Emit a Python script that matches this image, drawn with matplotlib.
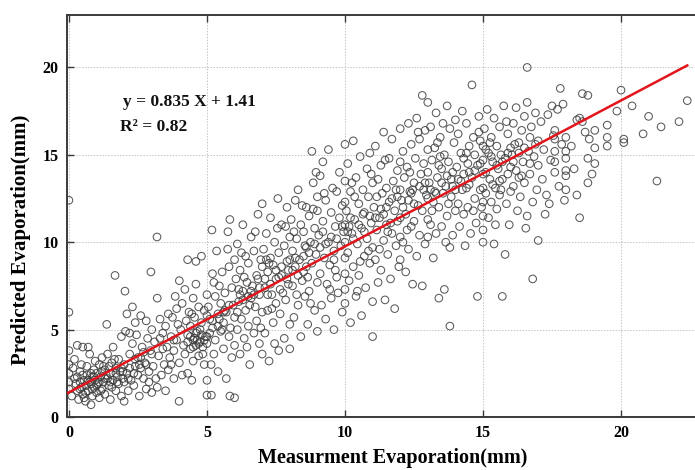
import numpy as np
import matplotlib
matplotlib.use("Agg")
import matplotlib.pyplot as plt

pts_0_2 = [
    (0.0, 12.4), (0.0, 6.0), (0.0, 3.8), (0.0, 3.0), (0.0, 2.5), (0.0, 2.0), (0.0, 1.6),
    (0.1, 1.2), (0.15, 2.8), (0.2, 3.3), (0.25, 1.9), (0.3, 4.1), (0.3, 2.3), (0.35, 1.0),
    (0.4, 1.6), (0.4, 2.6), (0.45, 3.0), (0.5, 4.0), (0.5, 1.3), (0.55, 2.1), (0.6, 1.8),
    (0.6, 0.9), (0.65, 2.4), (0.7, 4.0), (0.7, 1.5), (0.75, 2.0), (0.75, 3.6), (0.8, 0.7),
    (0.8, 1.9), (0.85, 2.3), (0.85, 1.2), (0.9, 2.7), (0.9, 1.7), (0.95, 2.1), (0.95, 3.2),
    (1.0, 1.4), (1.0, 2.5), (0.2, 2.2), (0.45, 1.7), (0.65, 2.9), (0.85, 1.6), (0.55, 1.1),
    (1.05, 1.9), (1.1, 3.0), (1.1, 1.1), (1.15, 2.3), (1.2, 1.6), (1.2, 3.4), (1.25, 2.0),
    (1.3, 2.7), (1.3, 1.3), (1.37, 5.3), (1.4, 2.2), (1.4, 3.6), (1.45, 1.8), (1.5, 2.5),
    (1.5, 1.0), (1.55, 3.1), (1.6, 2.1), (1.6, 4.0), (1.67, 8.1), (1.7, 2.8), (1.7, 1.5),
    (1.75, 2.3), (1.8, 3.3), (1.8, 1.9), (1.85, 2.6), (1.9, 4.6), (1.9, 1.2), (1.95, 2.2),
    (2.0, 3.0), (2.0, 0.9), (2.03, 7.2), (2.05, 4.9), (2.0, 2.0), (1.65, 3.3), (1.25, 2.9),
    (1.15, 1.5), (1.35, 2.4), (1.55, 1.7), (1.75, 2.0), (1.95, 2.6), (1.45, 2.9),
]
pts_2_4 = [
    (2.1, 2.5), (2.1, 5.9), (2.15, 1.5), (2.2, 3.6), (2.25, 2.1), (2.3, 4.2), (2.3, 6.3),
    (2.35, 1.8), (2.4, 2.9), (2.45, 4.7), (2.5, 2.4), (2.5, 3.4), (2.55, 1.2), (2.6, 5.8),
    (2.6, 2.8), (2.65, 4.0), (2.7, 2.2), (2.75, 3.1), (2.8, 5.5), (2.8, 1.6), (2.85, 4.5),
    (2.9, 2.6), (2.97, 8.3), (2.95, 3.8), (3.0, 1.4), (3.0, 5.0), (2.4, 5.4), (2.7, 3.7),
    (2.2, 4.8), (2.9, 2.0), (2.35, 2.5), (2.55, 3.0), (2.15, 2.2),
    (3.05, 2.9), (3.1, 4.3), (3.19, 10.3), (3.2, 6.8), (3.2, 1.7), (3.25, 3.5), (3.3, 5.6),
    (3.35, 2.4), (3.4, 4.8), (3.45, 3.0), (3.5, 5.2), (3.5, 1.5), (3.55, 4.0), (3.6, 5.9),
    (3.6, 2.7), (3.65, 3.4), (3.7, 4.6), (3.75, 5.7), (3.8, 2.2), (3.8, 3.8), (3.85, 6.9),
    (3.9, 4.4), (3.95, 5.3), (3.99, 0.9), (4.0, 3.1), (4.0, 7.8), (3.3, 4.5), (3.7, 3.0),
    (3.15, 2.2), (3.9, 6.2),
]
pts_4_6 = [
    (4.05, 5.0), (4.1, 2.4), (4.1, 6.5), (4.15, 4.1), (4.2, 3.6), (4.2, 7.3), (4.25, 5.5),
    (4.3, 2.5), (4.3, 4.7), (4.35, 6.0), (4.4, 3.9), (4.4, 5.2), (4.45, 2.1), (4.5, 4.4),
    (4.5, 6.8), (4.5, 3.2), (4.55, 5.7), (4.6, 4.1), (4.6, 7.6), (4.65, 4.9), (4.7, 3.5),
    (4.7, 6.3), (4.75, 4.3), (4.8, 5.4), (4.8, 9.2), (4.85, 4.0), (4.9, 6.1), (4.9, 3.0),
    (4.95, 4.6), (5.0, 5.8), (5.0, 1.25), (5.0, 4.2), (5.0, 2.1), (5.0, 7.0), (4.6, 8.9),
    (4.3, 9.0), (4.75, 5.0), (4.55, 4.5), (4.85, 3.6), (4.45, 5.9),
    (5.05, 6.3), (5.1, 4.8), (5.16, 1.25), (5.18, 10.7), (5.2, 8.2), (5.2, 5.5), (5.25, 3.6),
    (5.3, 6.9), (5.3, 4.4), (5.35, 9.5), (5.4, 5.9), (5.4, 2.6), (5.45, 7.5), (5.5, 4.9),
    (5.5, 6.5), (5.55, 8.3), (5.6, 3.9), (5.6, 5.4), (5.65, 7.1), (5.7, 2.2), (5.7, 6.0),
    (5.76, 10.6), (5.8, 4.6), (5.8, 8.6), (5.83, 11.3), (5.83, 1.2), (5.85, 5.1), (5.9, 7.4),
    (5.9, 3.4), (5.95, 6.4), (6.0, 1.1), (6.0, 9.0), (6.0, 5.7), (6.0, 4.1), (5.25, 7.7),
    (5.55, 5.0), (5.75, 9.6), (5.15, 3.0), (5.45, 5.6), (5.65, 6.1),
]
pts_6_8 = [
    (6.05, 7.9), (6.1, 5.0), (6.1, 9.9), (6.15, 6.6), (6.2, 3.6), (6.2, 8.4), (6.25, 5.6),
    (6.3, 7.2), (6.3, 11.0), (6.35, 4.5), (6.4, 9.2), (6.4, 6.1), (6.45, 7.7), (6.5, 5.2),
    (6.5, 8.8), (6.55, 3.0), (6.6, 6.8), (6.6, 10.3), (6.65, 7.5), (6.7, 4.8), (6.7, 9.5),
    (6.75, 6.3), (6.8, 8.1), (6.8, 5.5), (6.85, 11.6), (6.9, 7.0), (6.9, 4.2), (6.95, 9.0),
    (7.0, 12.2), (7.0, 6.0), (7.0, 8.6), (7.0, 3.6), (6.25, 9.4), (6.45, 4.0), (6.75, 10.6),
    (6.35, 8.0), (6.55, 6.4), (6.95, 5.1), (6.15, 7.3), (6.85, 7.9),
    (7.05, 9.6), (7.1, 7.4), (7.1, 4.8), (7.15, 10.5), (7.2, 8.3), (7.2, 6.1), (7.25, 3.2),
    (7.3, 9.1), (7.3, 11.4), (7.35, 7.0), (7.4, 5.4), (7.4, 8.7), (7.45, 10.0), (7.5, 6.5),
    (7.5, 7.9), (7.57, 12.5), (7.6, 9.4), (7.6, 3.8), (7.65, 5.9), (7.7, 8.1), (7.7, 11.0),
    (7.75, 7.1), (7.8, 9.8), (7.8, 4.5), (7.85, 6.7), (7.9, 8.9), (7.9, 12.0), (7.95, 7.6),
    (8.0, 5.3), (8.0, 10.3), (8.0, 9.0), (8.0, 3.9), (7.25, 8.8), (7.55, 10.8), (7.35, 6.2),
    (7.85, 10.9), (7.15, 9.0), (7.65, 7.3), (7.45, 4.2), (7.95, 8.4),
]
pts_8_10 = [
    (8.05, 11.3), (8.1, 7.5), (8.1, 9.5), (8.15, 5.7), (8.2, 12.4), (8.2, 8.6), (8.25, 10.2),
    (8.3, 6.4), (8.3, 13.0), (8.35, 9.0), (8.4, 11.0), (8.4, 4.6), (8.45, 7.8), (8.5, 10.6),
    (8.5, 8.3), (8.55, 6.9), (8.6, 12.0), (8.6, 9.7), (8.65, 5.3), (8.7, 11.5), (8.7, 7.2),
    (8.75, 10.0), (8.8, 15.2), (8.8, 8.8), (8.85, 13.4), (8.9, 6.1), (8.9, 10.8), (8.95, 9.3),
    (9.0, 12.6), (9.0, 7.7), (9.0, 11.8), (9.0, 4.9), (8.25, 7.0), (8.45, 12.1), (8.65, 8.0),
    (8.85, 11.9), (8.15, 10.6), (8.55, 9.8), (8.75, 6.5), (8.95, 14.0),
    (9.05, 10.4), (9.1, 8.2), (9.1, 13.8), (9.15, 6.4), (9.2, 14.6), (9.2, 11.2), (9.25, 9.1),
    (9.3, 5.6), (9.3, 12.4), (9.35, 7.6), (9.4, 15.3), (9.4, 10.0), (9.45, 8.7), (9.5, 11.7),
    (9.5, 6.8), (9.55, 13.1), (9.6, 9.5), (9.6, 5.0), (9.65, 10.9), (9.7, 12.9), (9.7, 8.0),
    (9.75, 7.1), (9.8, 11.4), (9.8, 14.0), (9.85, 9.8), (9.9, 6.0), (9.9, 12.1), (9.95, 10.6),
    (10.0, 15.6), (10.0, 13.5), (10.0, 12.3), (10.0, 11.0), (10.0, 10.0), (10.0, 9.1),
    (10.0, 8.2), (10.0, 7.3), (10.0, 6.5), (9.25, 12.8), (9.45, 7.3), (9.65, 8.4),
]
pts_10_12 = [
    (10.05, 11.8), (10.1, 9.4), (10.1, 14.5), (10.15, 7.8), (10.2, 5.4), (10.2, 12.9),
    (10.25, 10.5), (10.3, 8.6), (10.3, 15.8), (10.35, 11.3), (10.4, 6.9), (10.4, 13.7),
    (10.45, 9.9), (10.5, 12.2), (10.5, 8.1), (10.55, 14.9), (10.6, 10.8), (10.6, 5.8),
    (10.65, 13.0), (10.7, 9.2), (10.7, 11.7), (10.75, 7.4), (10.8, 14.2), (10.8, 10.2),
    (10.85, 12.6), (10.9, 8.8), (10.9, 15.1), (10.95, 11.1), (11.0, 4.6), (11.0, 13.4),
    (11.0, 9.7), (11.0, 6.6), (10.25, 13.4), (10.45, 7.2), (10.65, 11.6), (10.85, 9.5),
    (10.15, 10.9), (10.35, 12.6), (10.55, 8.9), (10.95, 13.9),
    (11.05, 12.0), (11.1, 9.0), (11.1, 15.5), (11.15, 10.7), (11.2, 7.7), (11.2, 13.6),
    (11.25, 11.4), (11.3, 14.4), (11.3, 8.4), (11.35, 12.8), (11.4, 10.1), (11.4, 16.3),
    (11.45, 6.7), (11.5, 13.1), (11.5, 11.0), (11.55, 9.3), (11.6, 14.8), (11.6, 12.3),
    (11.65, 7.9), (11.7, 10.5), (11.7, 15.9), (11.75, 13.5), (11.8, 6.2), (11.8, 11.8),
    (11.85, 9.8), (11.9, 14.1), (11.9, 12.6), (11.95, 8.6), (12.0, 16.5), (12.0, 14.6),
    (12.0, 13.0), (12.0, 11.4), (12.0, 10.3), (12.0, 9.0), (11.25, 9.6), (11.45, 14.7),
    (11.65, 11.1), (11.85, 13.0), (11.15, 12.6), (11.55, 10.6),
]
pts_12_14 = [
    (12.05, 12.4), (12.1, 10.0), (12.1, 15.2), (12.15, 13.7), (12.2, 8.3), (12.2, 11.6),
    (12.25, 14.3), (12.3, 9.6), (12.3, 16.8), (12.35, 12.9), (12.4, 10.9), (12.4, 15.6),
    (12.45, 7.6), (12.5, 13.4), (12.5, 11.2), (12.55, 14.8), (12.6, 9.2), (12.6, 17.1),
    (12.65, 12.1), (12.7, 10.4), (12.7, 15.9), (12.75, 13.9), (12.8, 18.4), (12.8, 7.5),
    (12.8, 11.8), (12.85, 14.5), (12.9, 9.9), (12.9, 16.4), (12.95, 12.7), (13.0, 18.0),
    (13.0, 15.3), (13.0, 14.0), (13.0, 12.5), (13.0, 11.3), (13.0, 10.3), (12.25, 10.7),
    (12.45, 13.0), (12.65, 16.3), (12.85, 13.0), (12.35, 14.0),
    (13.05, 13.4), (13.1, 11.0), (13.1, 16.6), (13.15, 14.7), (13.2, 9.1), (13.2, 12.3),
    (13.25, 15.4), (13.3, 10.5), (13.3, 17.4), (13.35, 13.7), (13.4, 6.8), (13.4, 12.0),
    (13.45, 16.0), (13.5, 14.2), (13.5, 10.9), (13.55, 12.8), (13.6, 7.3), (13.6, 15.0),
    (13.65, 13.2), (13.7, 17.8), (13.7, 11.5), (13.75, 14.6), (13.8, 5.2), (13.8, 9.7),
    (13.8, 16.5), (13.85, 12.6), (13.9, 14.0), (13.9, 10.4), (13.95, 15.7), (14.0, 13.0),
    (14.0, 11.8), (14.0, 17.0), (13.25, 12.9), (13.45, 14.9), (13.65, 10.0), (13.85, 13.6),
    (13.15, 11.8), (13.55, 16.8), (13.75, 12.2), (13.35, 15.7),
]
pts_14_16 = [
    (14.05, 14.3), (14.1, 12.2), (14.1, 16.2), (14.15, 10.9), (14.2, 15.1), (14.2, 13.5),
    (14.25, 17.5), (14.3, 11.6), (14.3, 14.8), (14.35, 9.8), (14.4, 16.8), (14.4, 13.1),
    (14.45, 12.0), (14.5, 15.5), (14.5, 14.0), (14.55, 10.5), (14.6, 19.0), (14.6, 13.7),
    (14.65, 16.0), (14.7, 12.5), (14.7, 15.0), (14.75, 11.1), (14.8, 6.9), (14.8, 14.4),
    (14.85, 17.2), (14.9, 13.0), (14.9, 15.8), (14.95, 12.0), (15.0, 10.0), (15.0, 15.5),
    (15.0, 14.7), (15.0, 13.9), (15.0, 13.1), (15.0, 12.3), (15.0, 11.5), (15.0, 10.7),
    (14.25, 13.0), (14.45, 14.5), (14.65, 11.8), (14.85, 16.3),
    (15.05, 16.5), (15.1, 14.0), (15.1, 12.8), (15.15, 17.6), (15.2, 15.1), (15.2, 11.4),
    (15.25, 13.6), (15.3, 16.0), (15.3, 12.3), (15.35, 14.6), (15.4, 9.9), (15.4, 17.1),
    (15.45, 13.1), (15.5, 15.5), (15.5, 11.9), (15.55, 14.2), (15.6, 16.6), (15.6, 12.7),
    (15.65, 15.0), (15.7, 6.9), (15.7, 13.6), (15.75, 17.8), (15.8, 9.3), (15.8, 14.8),
    (15.85, 12.2), (15.9, 16.2), (15.9, 13.9), (15.95, 11.0), (16.0, 15.4), (16.0, 14.3),
    (16.0, 12.9), (15.25, 15.7), (15.45, 11.0), (15.65, 13.0), (15.85, 16.9), (15.35, 13.3),
]
pts_16_up = [
    (16.05, 15.0), (16.1, 13.2), (16.1, 16.8), (16.2, 17.7), (16.2, 14.1), (16.25, 11.8),
    (16.3, 15.7), (16.35, 12.6), (16.4, 16.4), (16.45, 14.6), (16.5, 13.4), (16.5, 17.2),
    (16.55, 10.8), (16.6, 20.0), (16.6, 18.0), (16.6, 11.5), (16.65, 15.2), (16.7, 13.9),
    (16.75, 16.6), (16.8, 7.9), (16.8, 12.3), (16.85, 14.9), (16.9, 17.4), (16.95, 13.0),
    (17.0, 10.1), (17.0, 15.8), (17.0, 14.4), (16.3, 13.7), (16.7, 16.0), (16.15, 15.6),
    (17.1, 16.9), (17.15, 13.6), (17.2, 15.3), (17.3, 12.7), (17.35, 17.3), (17.4, 12.2),
    (17.45, 14.7), (17.5, 17.8), (17.55, 16.1), (17.6, 16.4), (17.6, 15.9), (17.6, 15.2),
    (17.6, 14.6), (17.6, 14.0), (17.7, 17.6), (17.75, 13.2), (17.8, 18.8), (17.85, 15.6),
    (17.9, 17.9), (18.0, 16.0), (18.0, 15.2), (18.0, 14.8), (18.0, 14.1), (18.0, 13.8),
    (18.0, 13.0), (17.25, 11.6), (17.95, 12.4),
    (18.4, 17.0), (18.4, 12.7), (18.5, 11.4), (18.5, 17.1), (18.6, 18.5), (18.6, 16.9),
    (18.7, 16.3), (18.8, 18.4), (18.8, 14.8), (18.8, 13.4), (18.85, 15.9), (19.05, 16.4),
    (19.05, 15.4), (19.05, 14.5), (18.2, 15.5), (18.3, 14.2), (18.95, 13.9),
    (19.5, 16.7), (19.5, 16.0), (19.5, 15.5), (19.85, 17.5), (20.0, 18.7), (20.1, 15.9),
    (20.1, 15.7), (20.4, 17.8), (20.8, 16.2), (21.0, 17.2), (21.3, 13.5), (21.45, 16.6),
    (22.1, 16.9), (22.4, 18.1),
]
# extra points in the dark, crowded band around the fitted line
pts_core = [
    (0.3, 1.5), (0.5, 2.4), (0.7, 2.1), (0.9, 2.3), (1.1, 2.0), (1.3, 2.2), (1.5, 2.0),
    (1.7, 2.5), (1.9, 2.8), (0.4, 2.0), (0.8, 2.5), (1.2, 2.6), (0.6, 1.4), (1.0, 1.8),
    (2.2, 2.8), (2.6, 3.4), (3.0, 3.6), (3.4, 3.9), (3.8, 4.4), (2.4, 3.3), (2.8, 3.0),
    (4.3, 4.3), (4.5, 4.0), (4.7, 4.2), (4.9, 4.4), (4.6, 4.8), (4.4, 4.6), (4.8, 4.7),
    (5.0, 4.6), (4.65, 4.4), (5.2, 5.1), (5.4, 5.2), (5.6, 6.0), (5.8, 6.4), (5.1, 5.6),
    (6.1, 6.0), (6.3, 6.7), (6.5, 6.9), (6.7, 7.0), (6.9, 7.4), (6.2, 7.0), (6.6, 7.2),
    (7.1, 7.9), (7.3, 7.6), (7.5, 8.4), (7.7, 8.6), (7.9, 7.9), (7.2, 7.0), (7.6, 8.0),
    (8.1, 8.4), (8.3, 8.1), (8.5, 9.2), (8.7, 9.4), (8.9, 9.9), (8.2, 9.1), (8.6, 8.6),
    (9.1, 9.7), (9.3, 9.9), (9.5, 10.3), (9.7, 10.2), (9.9, 10.9), (9.2, 10.6), (9.6, 9.0),
    (10.1, 10.6), (10.3, 10.2), (10.5, 11.0), (10.7, 10.6), (10.9, 11.5), (10.2, 11.4),
    (11.1, 11.4), (11.3, 11.9), (11.5, 12.0), (11.7, 12.5), (11.9, 11.2), (11.4, 11.6),
    (12.1, 12.0), (12.3, 12.4), (12.5, 12.2), (12.7, 13.2), (12.9, 13.4), (12.4, 12.8),
    (13.1, 13.0), (13.3, 12.8), (13.5, 13.4), (13.7, 13.8), (13.9, 13.2), (13.4, 14.4),
    (14.1, 13.6), (14.3, 13.9), (14.5, 13.3), (14.7, 14.1), (14.9, 14.5), (14.4, 15.1),
    (15.1, 15.3), (15.3, 14.9), (15.5, 14.4), (15.7, 14.6), (15.9, 15.1), (15.6, 13.5),
    (16.1, 14.6), (16.3, 15.1), (16.5, 15.4), (16.7, 14.5), (16.9, 15.6), (16.4, 13.8),
]

slope = 0.835
intercept = 1.41
r2 = 0.82
x_ticks = [0, 5, 10, 15, 20]
y_ticks = [0, 5, 10, 15, 20]

pts = np.array(pts_0_2 + pts_2_4 + pts_4_6 + pts_6_8 + pts_8_10
               + pts_10_12 + pts_12_14 + pts_14_16 + pts_16_up + pts_core)
meas = pts[:, 0]
pred = pts[:, 1]

serif = ['Liberation Serif', 'DejaVu Serif']

fig = plt.figure(figsize=(6.95, 4.7), dpi=100)
ax = fig.add_axes([67 / 695, 53 / 470, 628 / 695, 402 / 470])

ax.scatter(meas, pred, s=30, facecolors='none', edgecolors='#3c3c3c',
           linewidths=0.75, alpha=0.85, zorder=2)

xfit = np.array([-0.07, 22.4])
ax.plot(xfit, slope * xfit + intercept, color='#e3141b', lw=1.8, zorder=3)

ax.set_xlim(-0.07, 22.68)
ax.set_ylim(0, 23)
ax.set_xticks(x_ticks)
ax.set_yticks(y_ticks)
ax.grid(True, color='#c4c4c4', linestyle=(0, (1.5, 1.5)), linewidth=0.7, zorder=0)

for s in ['left', 'bottom', 'top']:
    ax.spines[s].set_color('#3a3a3a')
    ax.spines[s].set_linewidth(1.4)
ax.spines['right'].set_visible(False)
ax.tick_params(direction='in', top=True, right=False, length=5, width=1.0,
               color='#3a3a3a', pad=6)
for lab in ax.get_xticklabels() + ax.get_yticklabels():
    lab.set_fontfamily(serif)
    lab.set_fontweight('bold')
    lab.set_fontsize(11.5)

ax.set_xlabel('Measurment Evaporation(mm)', family=serif, weight='bold',
              fontsize=14.5)
ax.set_ylabel('Predicted Evaporation(mm)', family=serif, weight='bold',
              fontsize=15)
ax.xaxis.set_label_coords(0.518, -0.078)
ax.yaxis.set_label_coords(-0.057, 0.44)

ax.text(1.95, 18.05, f'y = {slope} X + {intercept}', family=serif, weight='bold',
        fontsize=12.5, color='#111111', va='center')
ax.text(1.85, 16.6, f'R² = {r2}', family=serif, weight='bold',
        fontsize=12.5, color='#111111', va='center')

fig.savefig('out.png', dpi=100)
